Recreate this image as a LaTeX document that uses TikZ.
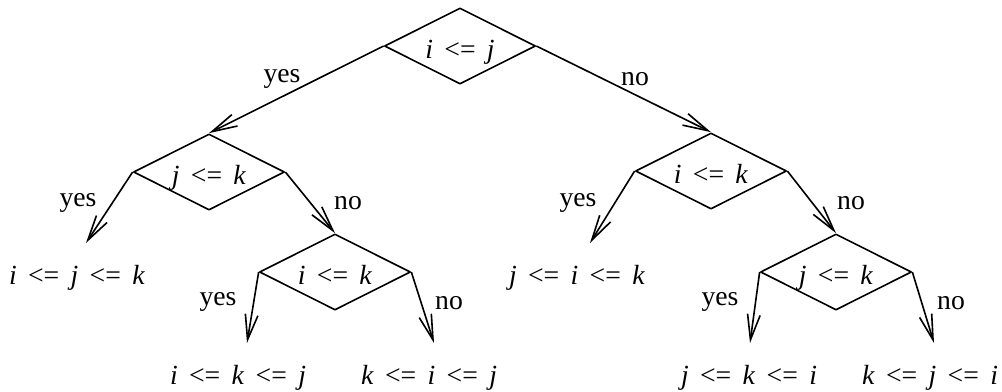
\documentclass[tikz,border=0pt]{standalone}
\usepackage{fontspec}
\setmainfont{Liberation Serif}
\usetikzlibrary{shapes.geometric,arrows.meta}
\newcommand\releq{\hspace{0.41em}<=\hspace{0.41em}}
\newcommand\vi{\textit{i}}
\newcommand\vj{\textit{j}}
\newcommand\vk{\textit{k}}
\begin{document}
\begin{tikzpicture}[x=0.4335pt,y=-0.4335pt,line join=round,line width=0.7pt,
	>={Straight Barb[length=11pt,width=5.5pt]},
	every node/.style={font=\fontsize{12pt}{14pt}\selectfont},
	test/.style={draw,shape=diamond,aspect=2,inner sep=0pt,minimum width=65.5pt,minimum height=33pt,text height=10.8pt,text depth=0pt}]
	\useasboundingbox (0,0) rectangle (1002,391);
	% comparisons
	\node[test] (ij) at (460,46) {\vi\releq\vj};
	\node[test] (jk) at (209,172) {\vj\releq\vk};
	\node[test] (ik) at (711,171) {\vi\releq\vk};
	\node[test] (ikl) at (335,272) {\vi\releq\vk};
	\node[test] (jkr) at (836,272) {\vj\releq\vk};
	% results
	\node (ijk) at (77,278) {\vi\releq\vj\releq\vk};
	\node (jik) at (577,278) {\vj\releq\vi\releq\vk};
	\node (ikj) at (238,378) {\vi\releq\vk\releq\vj};
	\node (kij) at (429,378) {\vk\releq\vi\releq\vj};
	\node (jki) at (749,378) {\vj\releq\vk\releq\vi};
	\node (kji) at (930,378) {\vk\releq\vj\releq\vi};
	% arrow tips above the results
	\coordinate (tijk) at (86,243);
	\coordinate (tjik) at (590,243);
	\coordinate (tikj) at (247,343);
	\coordinate (tkij) at (434,343);
	\coordinate (tjki) at (750,343);
	\coordinate (tkji) at (934,343);
	% branches
	\draw[->] (ij.west)--(jk.north);
	\draw[->] (ij.east)--(ik.north);
	\draw[->] (jk.west)--(tijk);
	\draw[->] (jk.east)--(ikl.north);
	\draw[->] (ik.west)--(tjik);
	\draw[->] (ik.east)--(jkr.north);
	\draw[->] (ikl.west)--(tikj);
	\draw[->] (ikl.east)--(tkij);
	\draw[->] (jkr.west)--(tjki);
	\draw[->] (jkr.east)--(tkji);
	% answers
	\node (y1) at (282,79) {yes};
	\node (n1) at (635,79) {no};
	\node (y2) at (78,203) {yes};
	\node (n2) at (348,203) {no};
	\node (y3) at (578,203) {yes};
	\node (n3) at (851,203) {no};
	\node (y4) at (218,302) {yes};
	\node (n4) at (449,303) {no};
	\node (y5) at (720,302) {yes};
	\node (n5) at (951,303) {no};
\end{tikzpicture}
\end{document}
